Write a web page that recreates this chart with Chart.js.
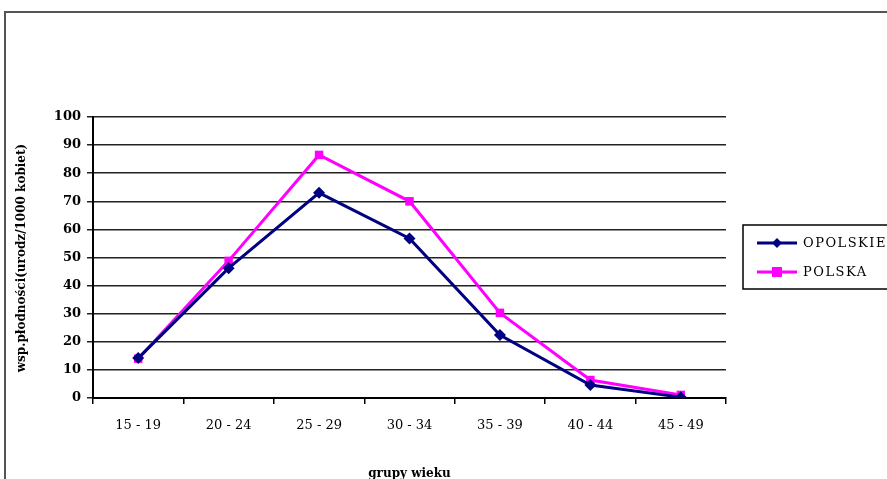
<!DOCTYPE html>
<html>
<head>
<meta charset="utf-8">
<script src="https://cdn.jsdelivr.net/npm/chart.js@4.4.1/dist/chart.umd.min.js"></script>
<style>
  html, body { margin: 0; padding: 0; background: #fff; }
  #wrap { width: 887px; height: 479px; position: relative; }
</style>
</head>
<body>
<div id="wrap"><canvas id="c" width="887" height="479"></canvas></div>
<script>
const categories = ['15 - 19', '20 - 24', '25 - 29', '30 - 34', '35 - 39', '40 - 44', '45 - 49'];
const opolskie = [14.2, 46.2, 73.0, 56.8, 22.4, 4.6, 0.3];
const polska = [14.0, 48.8, 86.5, 70.0, 30.3, 6.4, 1.1];
const seriesNames = ['OPOLSKIE', 'POLSKA'];
const yTitle = 'wsp.płodności(urodz/1000 kobiet)';
const xTitle = 'grupy wieku';

const frameAndLegend = {
  id: 'frameAndLegend',
  beforeDraw(chart) {
    const ctx = chart.ctx;
    ctx.save();
    ctx.fillStyle = '#fff';
    ctx.fillRect(0, 0, chart.width, chart.height);
    ctx.strokeStyle = '#555';
    ctx.lineWidth = 2;
    ctx.beginPath();
    ctx.moveTo(5, 490);
    ctx.lineTo(5, 12);
    ctx.lineTo(900, 12);
    ctx.stroke();
    ctx.restore();
  },
  afterDraw(chart) {
    const ctx = chart.ctx;
    const area = chart.chartArea;
    ctx.save();
    // Legend box
    const bx = 743, by = 225, bw = 150, bh = 64;
    ctx.strokeStyle = '#000';
    ctx.lineWidth = 1.5;
    ctx.strokeRect(bx, by, bw, bh);
    ctx.font = '13px "DejaVu Serif"';
    ctx.textBaseline = 'middle';
    ctx.textAlign = 'left';
    try { ctx.letterSpacing = '1.5px'; } catch (e) {}
    chart.data.datasets.forEach((ds, i) => {
      const yy = 243 + i * 29;
      ctx.strokeStyle = ds.borderColor;
      ctx.lineWidth = 3;
      ctx.beginPath();
      ctx.moveTo(757, yy);
      ctx.lineTo(797, yy);
      ctx.stroke();
      ctx.fillStyle = ds.backgroundColor;
      if (ds.pointStyle === 'rectRot') {
        ctx.beginPath();
        ctx.moveTo(777, yy - 5);
        ctx.lineTo(782, yy);
        ctx.lineTo(777, yy + 5);
        ctx.lineTo(772, yy);
        ctx.closePath();
        ctx.fill();
      } else {
        ctx.fillRect(772, yy - 5, 10, 10);
      }
      ctx.fillStyle = '#000';
      ctx.fillText(ds.label, 803, yy + 1);
    });
    // Axis titles
    try { ctx.letterSpacing = '0px'; } catch (e) {}
    ctx.fillStyle = '#000';
    ctx.font = 'bold 12px "DejaVu Serif"';
    ctx.textAlign = 'center';
    ctx.textBaseline = 'middle';
    ctx.fillText(xTitle, (area.left + area.right) / 2, 474);
    ctx.translate(22, 258);
    ctx.rotate(-Math.PI / 2);
    ctx.fillText(yTitle, 0, 0);
    ctx.restore();
  }
};

new Chart(document.getElementById('c'), {
  type: 'line',
  data: {
    labels: categories,
    datasets: [
      {
        label: seriesNames[0],
        data: opolskie,
        borderColor: '#000080',
        backgroundColor: '#000080',
        borderWidth: 3,
        pointStyle: 'rectRot',
        pointRadius: 6,
        pointBorderWidth: 0,
        tension: 0
      },
      {
        label: seriesNames[1],
        data: polska,
        borderColor: '#FF00FF',
        backgroundColor: '#FF00FF',
        borderWidth: 3,
        pointStyle: 'rect',
        pointRadius: 6,
        pointBorderWidth: 0,
        tension: 0
      }
    ]
  },
  options: {
    responsive: false,
    animation: false,
    devicePixelRatio: 1,
    layout: { padding: { left: 0, right: 161, top: 117, bottom: 0 } },
    plugins: {
      legend: { display: false },
      tooltip: { enabled: false }
    },
    scales: {
      x: {
        offset: true,
        grid: {
          offset: true,
          drawOnChartArea: false,
          drawTicks: true,
          tickLength: 6,
          color: '#000',
          lineWidth: 1.5
        },
        border: { color: '#000', width: 2 },
        ticks: {
          color: '#000',
          font: { family: 'DejaVu Serif', size: 13 },
          padding: 14,
          maxRotation: 0,
          autoSkip: false
        },
        afterFit(s) { s.height = 81; }
      },
      y: {
        min: 0,
        max: 100,
        grid: {
          color: '#222',
          lineWidth: 1.5,
          tickLength: 6
        },
        border: { color: '#000', width: 2 },
        ticks: {
          stepSize: 10,
          color: '#000',
          font: { family: 'DejaVu Serif', size: 13, weight: 'bold' },
          padding: 6
        },
        afterFit(s) { s.width = 93; }
      }
    }
  },
  plugins: [frameAndLegend]
});
</script>
</body>
</html>
